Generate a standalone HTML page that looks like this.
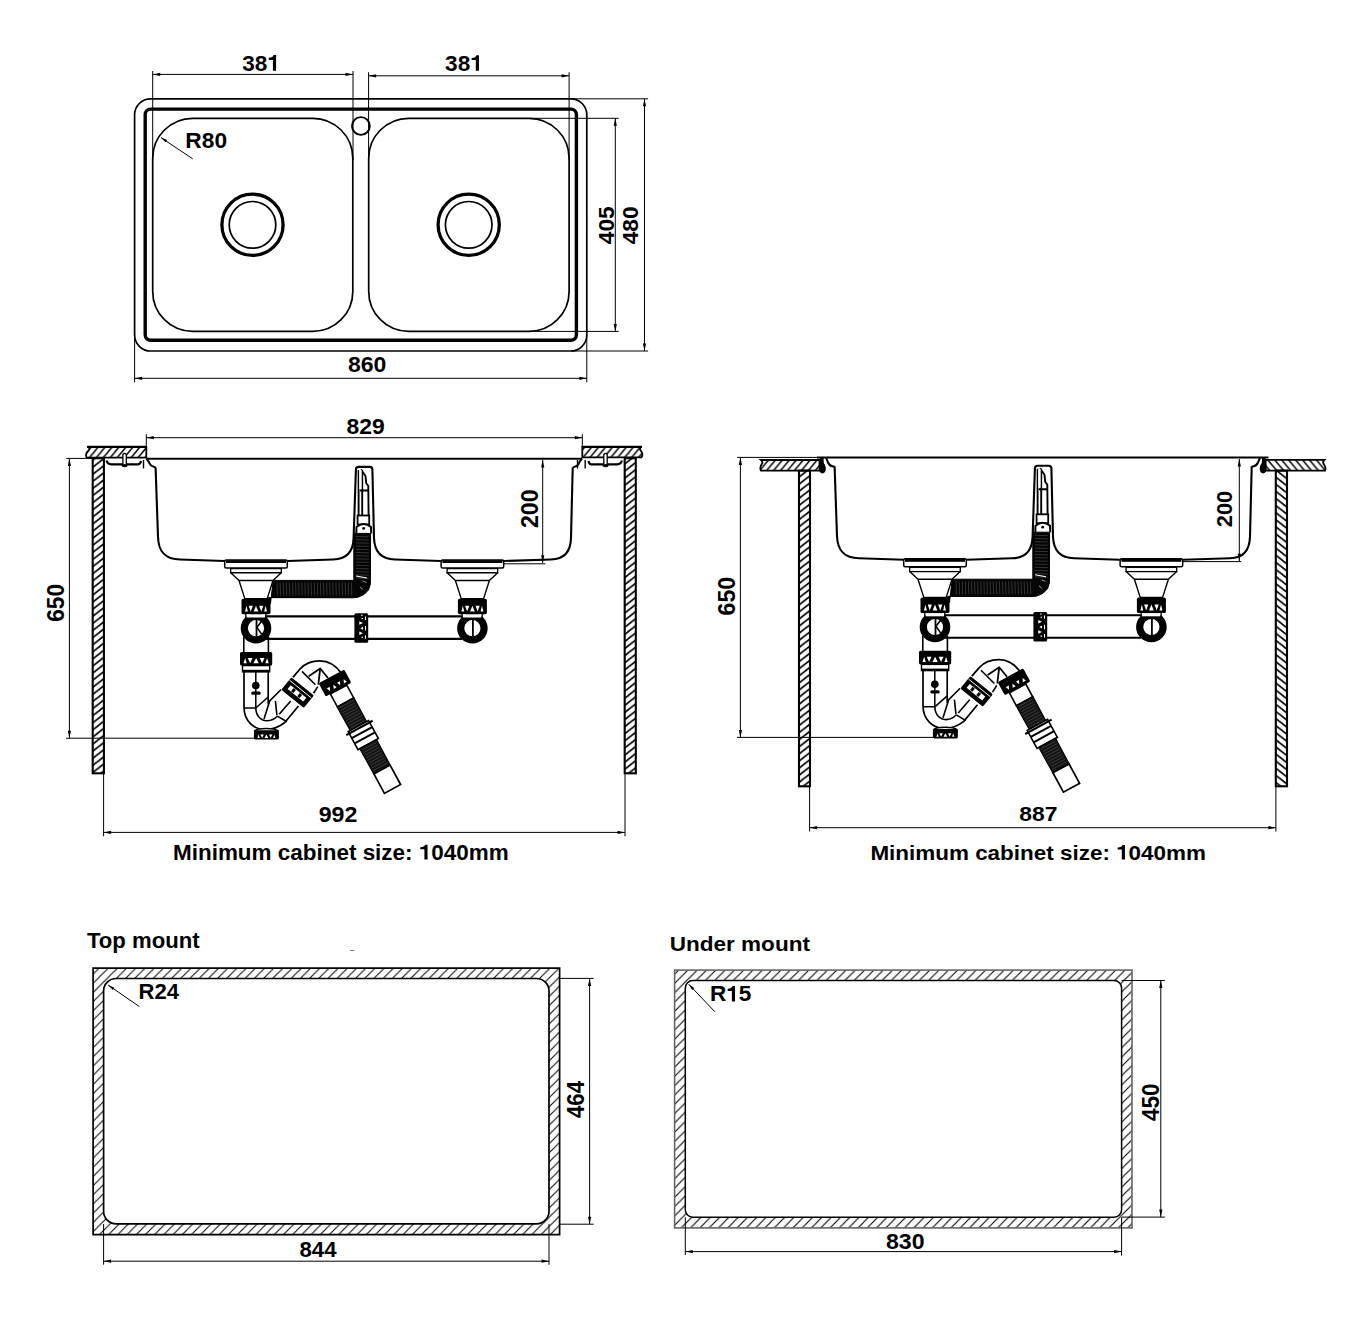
<!DOCTYPE html><html><head><meta charset="utf-8"><title>Sink drawing</title>
<style>html,body{margin:0;padding:0;background:#fff;}svg{display:block;}text{font-family:"Liberation Sans", sans-serif;font-weight:bold;fill:#000;}</style></head><body>
<svg width="1366" height="1326" viewBox="0 0 1366 1326">
<rect width="1366" height="1326" fill="#fff"/>
<defs>
<pattern id="hw" patternUnits="userSpaceOnUse" width="9.1" height="7.1"><path d="M0,7.1 L9.1,0 M-9.1,7.1 L0,0 M9.1,7.1 L18.2,0 M0,0 L9.1,-7.1 M0,14.2 L9.1,7.1" stroke="#000" stroke-width="1.6" fill="none"/></pattern>
<pattern id="hwf" patternUnits="userSpaceOnUse" width="9.1" height="7.1"><path d="M0,0 L9.1,7.1 M-9.1,0 L0,7.1 M9.1,0 L18.2,7.1 M0,-7.1 L9.1,0 M0,7.1 L9.1,14.2" stroke="#000" stroke-width="1.6" fill="none"/></pattern>
<pattern id="hs" patternUnits="userSpaceOnUse" width="6.95" height="8.3"><path d="M0,8.3 L6.95,0 M-6.95,8.3 L0,0 M6.95,8.3 L13.9,0 M0,0 L6.95,-8.3 M0,16.6 L6.95,8.3" stroke="#000" stroke-width="1.5" fill="none"/></pattern>
<pattern id="hsf" patternUnits="userSpaceOnUse" width="6.95" height="8.3"><path d="M0,0 L6.95,8.3 M-6.95,0 L0,8.3 M6.95,0 L13.9,8.3 M0,-8.3 L6.95,0 M0,8.3 L6.95,16.6" stroke="#000" stroke-width="1.5" fill="none"/></pattern>
<pattern id="hc" patternUnits="userSpaceOnUse" width="9.2" height="9.2"><path d="M0,9.2 L9.2,0 M-2,2 L2,-2 M7.2,11.2 L11.2,7.2" stroke="#000" stroke-width="1" fill="none"/></pattern>
<pattern id="hc2" patternUnits="userSpaceOnUse" width="9.3" height="9.3" patternTransform="translate(2.6 0)"><path d="M0,9.3 L9.3,0 M-2,2 L2,-2 M7.3,11.3 L11.3,7.3" stroke="#000" stroke-width="1.1" fill="none"/></pattern>
</defs>
<g fill="none" stroke="#000">
<rect x="134.6" y="98.8" width="452.2" height="252.2" rx="16" stroke-width="1.7"/>
<rect x="145.2" y="109.1" width="431.2" height="231.2" rx="5.5" stroke-width="3.4"/>
<rect x="152.7" y="118.3" width="200.1" height="213.1" rx="40" stroke-width="1.7"/>
<rect x="368.7" y="118.3" width="200.4" height="213.1" rx="40" stroke-width="1.7"/>
<circle cx="360.9" cy="126" r="8.9" stroke-width="1.9"/>
<circle cx="252.5" cy="224.8" r="30.6" stroke-width="3.3"/>
<circle cx="252.5" cy="224.8" r="23.3" stroke-width="1.7"/>
<circle cx="468.7" cy="224.8" r="30.6" stroke-width="3.3"/>
<circle cx="468.7" cy="224.8" r="23.3" stroke-width="1.7"/>
</g>
<line x1="152.7" y1="71" x2="152.7" y2="160" stroke="#000" stroke-width="1"/>
<line x1="353" y1="71" x2="353" y2="160" stroke="#000" stroke-width="1"/>
<line x1="152.7" y1="74.4" x2="353" y2="74.4" stroke="#000" stroke-width="1"/>
<path d="M152.7,74.4 L160.2,72.8 L160.2,76 Z" fill="#000"/>
<path d="M353,74.4 L345.5,76 L345.5,72.8 Z" fill="#000"/>
<line x1="368.6" y1="72.2" x2="368.6" y2="160" stroke="#000" stroke-width="1"/>
<line x1="569.1" y1="72.2" x2="569.1" y2="160" stroke="#000" stroke-width="1"/>
<line x1="368.6" y1="75.8" x2="569.1" y2="75.8" stroke="#000" stroke-width="1"/>
<path d="M368.6,75.8 L376.1,74.2 L376.1,77.4 Z" fill="#000"/>
<path d="M569.1,75.8 L561.6,77.4 L561.6,74.2 Z" fill="#000"/>
<line x1="134.6" y1="335" x2="134.6" y2="382.3" stroke="#000" stroke-width="1"/>
<line x1="586.8" y1="335" x2="586.8" y2="382.3" stroke="#000" stroke-width="1"/>
<line x1="134.6" y1="378.3" x2="586.8" y2="378.3" stroke="#000" stroke-width="1"/>
<path d="M134.6,378.3 L142.1,376.7 L142.1,379.9 Z" fill="#000"/>
<path d="M586.8,378.3 L579.3,379.9 L579.3,376.7 Z" fill="#000"/>
<line x1="529" y1="118.3" x2="618.7" y2="118.3" stroke="#000" stroke-width="1"/>
<line x1="529" y1="331.4" x2="618.7" y2="331.4" stroke="#000" stroke-width="1"/>
<line x1="615.3" y1="118.3" x2="615.3" y2="331.4" stroke="#000" stroke-width="1"/>
<path d="M615.3,118.3 L616.9,125.8 L613.7,125.8 Z" fill="#000"/>
<path d="M615.3,331.4 L613.7,323.9 L616.9,323.9 Z" fill="#000"/>
<line x1="571" y1="98.8" x2="648.1" y2="98.8" stroke="#000" stroke-width="1"/>
<line x1="571" y1="351" x2="648.1" y2="351" stroke="#000" stroke-width="1"/>
<line x1="644.5" y1="98.8" x2="644.5" y2="351" stroke="#000" stroke-width="1"/>
<path d="M644.5,98.8 L646.1,106.3 L642.9,106.3 Z" fill="#000"/>
<path d="M644.5,351 L642.9,343.5 L646.1,343.5 Z" fill="#000"/>
<line x1="160.9" y1="137.6" x2="192.7" y2="158.8" stroke="#000" stroke-width="1"/>
<path d="M160.9,137.6 L167.08,140.04 L165.53,142.37 Z" fill="#000"/>
<g transform="translate(242.18 70.66) scale(1.0181 1)"><text font-size="22.22">38 </text><path transform="translate(24.72 0) scale(0.02222 -0.02222)" d="M386,0 L386,700 L274,700 C258,632 198,582 62,578 L62,482 L246,482 L246,0 Z"/></g>
<g transform="translate(445.08 70.66) scale(1.0246 1)"><text font-size="22.08">38 </text><path transform="translate(24.56 0) scale(0.02208 -0.02208)" d="M386,0 L386,700 L274,700 C258,632 198,582 62,578 L62,482 L246,482 L246,0 Z"/></g>
<text transform="translate(347.96 371.68) scale(1.0362 1)" font-size="22.21">860</text>
<text transform="translate(185.37 147.58) scale(1.0386 1)" font-size="21.92">R80</text>
<text transform="translate(613.58 244.24) rotate(-90) scale(1.0124 1)" font-size="22.49">405</text>
<text transform="translate(638.37 244.24) rotate(-90) scale(0.9882 1)" font-size="22.91">480</text>
<g>
<path d="M155.6,467.6 L158,537 C158.5,552 165,559.3 180,559.5 L224.8,561 M287.5,561 L333,559.5 C347,559.3 353.2,551 353.6,538 L355.9,469.5 Q356,466.9 358.6,466.9 L369.7,466.9 Q372.3,466.9 372.4,469.5 L374,538 C374.5,551 381,559.3 395,559.5 L440.8,561 M504,561 L551,559.5 C565,559.3 570.6,551 571,538 L572.7,467.6" fill="none" stroke="#000" stroke-width="2.1"/>
<path d="M266,616.4 L462,616.4 M266,638.9 L462,638.9" stroke="#000" stroke-width="2.1" fill="none"/>
<rect x="224.7" y="560" width="62.6" height="8" rx="1.5" fill="#fff" stroke="#000" stroke-width="1.5"/>
<rect x="226" y="560.2" width="60" height="2.8" fill="#000"/>
<rect x="230.7" y="568.6" width="50.6" height="4.2" fill="#fff" stroke="#000" stroke-width="1.3"/>
<path d="M230.7,572.8 L281.3,572.8 L273,580.5 L239,580.5 Z M239,580.5 L244.8,598.6 L267.2,598.6 L273,580.5" fill="#fff" stroke="#000" stroke-width="1.4" stroke-linejoin="round"/>
<rect x="241.5" y="598.8" width="29" height="15.4" rx="1.6" fill="#000"/>
<path d="M245,611.58 L246.43,605.73 L247.86,611.58 Z" fill="#fff"/>
<path d="M248.69,605.73 L250.78,611.58 L252.87,605.73 Z" fill="#fff"/>
<path d="M253.69,611.58 L256,605.73 L258.31,611.58 Z" fill="#fff"/>
<path d="M259.13,605.73 L261.23,611.58 L263.31,605.73 Z" fill="#fff"/>
<path d="M264.14,611.58 L265.57,605.73 L267,611.58 Z" fill="#fff"/>
<circle cx="256" cy="628.2" r="11.7" fill="#fff" stroke="#000" stroke-width="7.2"/>
<rect x="246.4" y="614.3" width="18.6" height="3.2" fill="#fff"/>
<path d="M245.8,614 L245.8,618.5 M265.8,614 L265.8,618.5" stroke="#000" stroke-width="1.3"/>
<line x1="256.5" y1="619.6" x2="256.5" y2="636.4" stroke="#000" stroke-width="1.8"/>
<path d="M256.8,627.6 L261.4,621.6 M256.8,627.2 L261.6,634.1" stroke="#000" stroke-width="1.6" fill="none"/>
<rect x="441.1" y="560" width="62.6" height="8" rx="1.5" fill="#fff" stroke="#000" stroke-width="1.5"/>
<rect x="442.4" y="560.2" width="60" height="2.8" fill="#000"/>
<rect x="447.1" y="568.6" width="50.6" height="4.2" fill="#fff" stroke="#000" stroke-width="1.3"/>
<path d="M447.1,572.8 L497.7,572.8 L489.4,580.5 L455.4,580.5 Z M455.4,580.5 L461.2,598.6 L483.6,598.6 L489.4,580.5" fill="#fff" stroke="#000" stroke-width="1.4" stroke-linejoin="round"/>
<rect x="457.9" y="598.8" width="29" height="15.4" rx="1.6" fill="#000"/>
<path d="M461.4,611.58 L462.83,605.73 L464.26,611.58 Z" fill="#fff"/>
<path d="M465.08,605.73 L467.17,611.58 L469.26,605.73 Z" fill="#fff"/>
<path d="M470.09,611.58 L472.4,605.73 L474.71,611.58 Z" fill="#fff"/>
<path d="M475.53,605.73 L477.62,611.58 L479.71,605.73 Z" fill="#fff"/>
<path d="M480.54,611.58 L481.97,605.73 L483.4,611.58 Z" fill="#fff"/>
<circle cx="472.4" cy="628.2" r="11.7" fill="#fff" stroke="#000" stroke-width="7.2"/>
<rect x="462.8" y="614.3" width="18.6" height="3.2" fill="#fff"/>
<path d="M462.2,614 L462.2,618.5 M482.2,614 L482.2,618.5" stroke="#000" stroke-width="1.3"/>
<line x1="472.9" y1="619.6" x2="472.9" y2="636.4" stroke="#000" stroke-width="1.8"/>
<rect x="354.4" y="613.3" width="13.8" height="29.5" rx="1.5" fill="#000"/>
<path d="M359.3,621.3 L363,623 L359.3,624.7 Z M363,626.7 L360.4,628.2 L363,629.8 Z M359.3,631.5 L363,633.2 L359.3,634.9 Z" fill="#fff"/>
<path d="M365.5,616.6 L365.5,620 M365.5,625.9 L365.5,630.5 M365.5,635.3 L365.5,638.8 M361,615.2 L362.6,615.2 M361.5,618.5 L363,618.5 M361.5,637.3 L363,637.3" stroke="#fff" stroke-width="1.1"/>
<path d="M358.6,470 L358.6,516 M362.2,470 L362.2,516 M361,469.5 L365.5,476 L366.2,483 L368.3,486 L368.6,516 M360,490.5 L368,490.5" stroke="#000" stroke-width="1.9" fill="none" stroke-linejoin="round"/>
<rect x="359.2" y="470" width="2.4" height="19" fill="#fff"/>
<rect x="357.6" y="515.5" width="11.6" height="9" fill="#fff" stroke="#000" stroke-width="1.8"/>
<path d="M356.3,533.5 L356.5,527 Q363.7,521 371,527 L371.2,533.5" fill="#fff" stroke="#000" stroke-width="2"/>
<circle cx="363.7" cy="528.4" r="1.4" fill="#000"/>
<path d="M273.2,580.4 L353.8,580.4 L353.8,533.4 L370.6,533.4 L370.4,584 L368.5,590 L364,594.5 L358,597.2 L353,597.8 L268.5,597.6 L266.8,603 L270.5,603.5 Z" fill="#050505" stroke="#000" stroke-width="1" stroke-linejoin="round"/>
<path d="M277,582.5 L277.4,595.5 M280.1,582.5 L280.5,595.5 M283.2,582.5 L283.6,595.5 M286.3,582.5 L286.7,595.5 M289.4,582.5 L289.8,595.5 M292.5,582.5 L292.9,595.5 M295.6,582.5 L296,595.5 M298.7,582.5 L299.1,595.5 M301.8,582.5 L302.2,595.5 M304.9,582.5 L305.3,595.5 M308,582.5 L308.4,595.5 M311.1,582.5 L311.5,595.5 M314.2,582.5 L314.6,595.5 M317.3,582.5 L317.7,595.5 M320.4,582.5 L320.8,595.5 M323.5,582.5 L323.9,595.5 M326.6,582.5 L327,595.5 M329.7,582.5 L330.1,595.5 M332.8,582.5 L333.2,595.5 M335.9,582.5 L336.3,595.5 M339,582.5 L339.4,595.5 M342.1,582.5 L342.5,595.5 M345.2,582.5 L345.6,595.5 M348.3,582.5 L348.7,595.5 M351.4,582.5 L351.8,595.5 M356,536.5 L368.8,536.8 M356,539.7 L368.8,540 M356,542.9 L368.8,543.2 M356,546.1 L368.8,546.4 M356,549.3 L368.8,549.6 M356,552.5 L368.8,552.8 M356,555.7 L368.8,556 M356,558.9 L368.8,559.2 M356,562.1 L368.8,562.4 M356,565.3 L368.8,565.6 M356,568.5 L368.8,568.8 M356,571.7 L368.8,572 M356,574.9 L368.8,575.2 M356,578.1 L368.8,578.4" stroke="#fff" stroke-opacity="0.3" stroke-width="0.6" fill="none"/>
<path d="M356,576 L367,578" stroke="#fff" stroke-width="1.1"/>
<path d="M362.5,581 L366.5,582.5 M360,587 L363,589.5" stroke="#fff" stroke-opacity="0.7" stroke-width="0.8"/>
<path d="M243.8,637 L243.8,652.5 M268.4,637 L268.4,652.5" stroke="#000" stroke-width="1.6" fill="none"/>
<rect x="240" y="651.9" width="32.2" height="13.7" rx="1.6" fill="#000"/>
<path d="M243.5,663.27 L245.14,658.06 L246.78,663.27 Z" fill="#fff"/>
<path d="M247.72,658.06 L250.12,663.27 L252.51,658.06 Z" fill="#fff"/>
<path d="M253.45,663.27 L256.1,658.06 L258.75,663.27 Z" fill="#fff"/>
<path d="M259.69,658.06 L262.09,663.27 L264.48,658.06 Z" fill="#fff"/>
<path d="M265.42,663.27 L267.06,658.06 L268.7,663.27 Z" fill="#fff"/>
<rect x="242.5" y="665.6" width="27.2" height="6.2" fill="#fff" stroke="#000" stroke-width="1.4"/>
<rect x="242.5" y="669.8" width="27.2" height="2.4" fill="#000"/>
<path d="M244,672 L244,707 C244,721 254,729.6 265.5,729.6 C273,729.6 279,727 284.8,722.5 L298.5,706" fill="none" stroke="#000" stroke-width="1.7"/>
<path d="M268.2,672 L268.2,704.5" fill="none" stroke="#000" stroke-width="1.7"/>
<path d="M255.8,672 L255.8,708 M244,707.9 L255.8,707.9" fill="none" stroke="#000" stroke-width="1.5"/>
<circle cx="255.8" cy="685.5" r="3.8" fill="#000"/>
<rect x="251.3" y="691.4" width="9.4" height="3.4" rx="1.5" fill="#000"/>
<path d="M255.8,708 C256,716 261,721 267.5,720.8 C271.5,720.6 274.5,719 277.5,716" fill="none" stroke="#000" stroke-width="1.6"/>
<path d="M255.8,708 L268.2,697" fill="none" stroke="#000" stroke-width="1.6"/>
<path d="M264,719 L269.7,700.9 L281.1,689.5 M275.4,700.9 L276.9,715.2 M277.3,716.1 L286.9,721.8 M279.2,714.2 L290.7,700.9" fill="none" stroke="#000" stroke-width="1.6"/>
<g transform="translate(297.6 692.6) rotate(-51)"><rect x="-8" y="-14.5" width="16" height="29" rx="1.5" fill="#000"/><rect x="-3.5" y="-10" width="5" height="20" fill="#fff"/><rect x="-3" y="-6" width="4" height="3" fill="#000"/><rect x="-3" y="2" width="4" height="3" fill="#000"/><line x1="4.5" y1="-14" x2="4.5" y2="14" stroke="#fff" stroke-width="0.9"/></g>
<path d="M302,671.4 L315.4,684.7 M313.5,693.3 L317.8,686.6" fill="none" stroke="#000" stroke-width="1.6"/>
<path d="M292.9,677.4 L300,669 C306,662.5 313,660.9 319.8,660.9 C328,660.9 336,665.5 341.5,673.5" fill="none" stroke="#000" stroke-width="1.8"/>
<path d="M308.7,676.2 L320.2,668.5 L328,678 M320.2,668.5 L318.3,684.7" fill="none" stroke="#000" stroke-width="1.8" stroke-linejoin="round"/>
<g transform="translate(335 683) rotate(61.5)">
<rect x="-7.5" y="-14.5" width="15" height="29" rx="1.5" fill="#000"/>
<path d="M4.6,-11 L0.8,-9.3 L4.6,-7.6 Z" fill="#fff"/>
<path d="M0.8,-5.2 L4.6,-3.5 L0.8,-1.8 Z" fill="#fff"/>
<path d="M4.6,0.6 L0.8,2.3 L4.6,4 Z" fill="#fff"/>
<path d="M0.8,6.4 L4.6,8.1 L0.8,9.8 Z" fill="#fff"/>
<rect x="7.5" y="-9.3" width="14.5" height="18.6" fill="#fff" stroke="#000" stroke-width="1.6"/>
<path d="M22,-9.6 L49,-9.4 L49,9.4 L22,9.6 Z" fill="#141414" stroke="#000" stroke-width="1"/>
<rect x="49" y="-11.6" width="20.5" height="23.2" fill="#fff" stroke="#000" stroke-width="1.6"/>
<path d="M51.2,-15 L51.2,15" stroke="#000" stroke-width="2.2"/>
<path d="M56.5,-11.6 L56.5,11.6 M62.5,-11.6 L62.5,11.6" stroke="#000" stroke-width="2"/>
<path d="M69.5,-9.6 L98.5,-9.4 L98.5,9.4 L69.5,9.6 Z" fill="#141414" stroke="#000" stroke-width="1"/>
<rect x="98.5" y="-9.2" width="22" height="18.4" fill="#fff" stroke="#000" stroke-width="1.7"/>
<path d="M24,-8 L24,8 M26.9,-8 L26.9,8 M29.8,-8 L29.8,8 M32.7,-8 L32.7,8 M35.6,-8 L35.6,8 M38.5,-8 L38.5,8 M41.4,-8 L41.4,8 M44.3,-8 L44.3,8 M47.2,-8 L47.2,8 M72,-8 L72,8 M74.9,-8 L74.9,8 M77.8,-8 L77.8,8 M80.7,-8 L80.7,8 M83.6,-8 L83.6,8 M86.5,-8 L86.5,8 M89.4,-8 L89.4,8 M92.3,-8 L92.3,8 M95.2,-8 L95.2,8" stroke="#fff" stroke-opacity="0.25" stroke-width="0.6"/>
</g>
<path d="M254.3,731 C258,727.5 274,727.5 278.5,731" fill="#fff" stroke="#000" stroke-width="1.5"/>
<rect x="253.9" y="730.2" width="25" height="9.4" rx="1.6" fill="#000"/>
<path d="M257.4,738 L258.57,734.43 L259.74,738 Z" fill="#fff"/>
<path d="M260.41,734.43 L262.12,738 L263.83,734.43 Z" fill="#fff"/>
<path d="M264.51,738 L266.4,734.43 L268.29,738 Z" fill="#fff"/>
<path d="M268.96,734.43 L270.67,738 L272.38,734.43 Z" fill="#fff"/>
<path d="M273.06,738 L274.23,734.43 L275.4,738 Z" fill="#fff"/>
</g>
<line x1="146.3" y1="458.7" x2="582.3" y2="458.7" stroke="#000" stroke-width="2"/>
<path d="M146.6,458.8 L148.8,461.8 Q150.2,466 153.5,466.6 L155.8,467.6" fill="none" stroke="#000" stroke-width="2"/>
<path d="M581.9,458.8 L579.6,461.8 Q578.4,466 575,466.6 L572.6,467.6" fill="none" stroke="#000" stroke-width="2"/>
<path d="M143.5,460 L143.5,468.5 M577.5,460 L577.5,468.5 M585.2,460 L585.2,468.5" stroke="#000" stroke-width="1.4"/>
<path d="M146.3,446.8 L87.5,446.8 Q91,448.5 88,451 Q85,454 86.6,457.7 L146.3,457.7 Z" fill="url(#hs)" stroke="#000" stroke-width="1.8"/>
<path d="M582.3,446.8 L641.8,446.8 Q638.5,448.5 641,451 Q643.5,454 641.5,457.4 L582.3,457.4 Z" fill="url(#hs)" stroke="#000" stroke-width="1.8"/>
<line x1="87.2" y1="446.8" x2="146.3" y2="446.8" stroke="#000" stroke-width="2.2"/>
<line x1="582.3" y1="446.8" x2="642" y2="446.8" stroke="#000" stroke-width="2.2"/>
<rect x="92.7" y="458.2" width="11.2" height="315.1" fill="url(#hw)" stroke="#000" stroke-width="2.1"/>
<rect x="624.7" y="458.2" width="11.1" height="315.1" fill="url(#hw)" stroke="#000" stroke-width="2.1"/>
<path d="M106.5,460.5 Q107.5,464.3 111.5,464.3 L138,464.3 Q140.5,464 141,461" fill="none" stroke="#000" stroke-width="2.2"/>
<path d="M122.9,465.5 L122.9,454.5 Q124.6,452.4 126.3,454.5 L126.3,465.5" fill="#fff" stroke="#000" stroke-width="1.3"/>
<ellipse cx="124.6" cy="465.6" rx="3" ry="1.6" fill="#000"/>
<path d="M622,460.5 Q621,464.3 617,464.3 L591,464.3 Q589,464 588.5,461" fill="none" stroke="#000" stroke-width="2.2"/>
<path d="M603.8,465.5 L603.8,454.5 Q605.5,452.4 607.2,454.5 L607.2,465.5" fill="#fff" stroke="#000" stroke-width="1.3"/>
<ellipse cx="605.5" cy="465.6" rx="3" ry="1.6" fill="#000"/>
<line x1="146.3" y1="434.2" x2="146.3" y2="447" stroke="#000" stroke-width="1"/>
<line x1="582.3" y1="434.2" x2="582.3" y2="447" stroke="#000" stroke-width="1"/>
<line x1="146.3" y1="437.7" x2="582.3" y2="437.7" stroke="#000" stroke-width="1"/>
<path d="M146.3,437.7 L153.8,436.1 L153.8,439.3 Z" fill="#000"/>
<path d="M582.3,437.7 L574.8,439.3 L574.8,436.1 Z" fill="#000"/>
<line x1="66.4" y1="458.4" x2="92.7" y2="458.4" stroke="#000" stroke-width="1"/>
<line x1="66" y1="738.2" x2="254.5" y2="738.2" stroke="#000" stroke-width="1"/>
<line x1="69.4" y1="458.4" x2="69.4" y2="738.2" stroke="#000" stroke-width="1"/>
<path d="M69.4,458.4 L71,465.9 L67.8,465.9 Z" fill="#000"/>
<path d="M69.4,738.2 L67.8,730.7 L71,730.7 Z" fill="#000"/>
<line x1="504" y1="563.8" x2="545.3" y2="563.8" stroke="#000" stroke-width="1"/>
<line x1="542.7" y1="460" x2="542.7" y2="562.8" stroke="#000" stroke-width="1"/>
<path d="M542.7,460 L544.3,467.5 L541.1,467.5 Z" fill="#000"/>
<path d="M542.7,562.8 L541.1,555.3 L544.3,555.3 Z" fill="#000"/>
<line x1="103.6" y1="773.3" x2="103.6" y2="836.3" stroke="#000" stroke-width="1"/>
<line x1="625" y1="773.3" x2="625" y2="836.3" stroke="#000" stroke-width="1"/>
<line x1="103.6" y1="832.4" x2="625" y2="832.4" stroke="#000" stroke-width="1"/>
<path d="M103.6,832.4 L111.1,830.8 L111.1,834 Z" fill="#000"/>
<path d="M625,832.4 L617.5,834 L617.5,830.8 Z" fill="#000"/>
<text transform="translate(346.57 433.77) scale(1.0114 1)" font-size="22.63">829</text>
<text transform="translate(63.87 621.84) rotate(-90) scale(0.9697 1)" font-size="23.48">650</text>
<text transform="translate(538.06 528.11) rotate(-90) scale(0.9813 1)" font-size="23.62">200</text>
<text transform="translate(318.69 822.49) scale(1.0774 1)" font-size="21.5">992</text>
<g transform="translate(172.99 859.59) scale(1.0569 1)"><text font-size="21.25">Minimum cabinet size:  040mm</text><path transform="translate(232.65 0) scale(0.02125 -0.02125)" d="M386,0 L386,700 L274,700 C258,632 198,582 62,578 L62,482 L246,482 L246,0 Z"/></g>
<g transform="translate(679 -1.2)">
<path d="M155.6,467.6 L158,537 C158.5,552 165,559.3 180,559.5 L224.8,561 M287.5,561 L333,559.5 C347,559.3 353.2,551 353.6,538 L355.9,469.5 Q356,466.9 358.6,466.9 L369.7,466.9 Q372.3,466.9 372.4,469.5 L374,538 C374.5,551 381,559.3 395,559.5 L440.8,561 M504,561 L551,559.5 C565,559.3 570.6,551 571,538 L572.7,467.6" fill="none" stroke="#000" stroke-width="2.1"/>
<path d="M266,616.4 L462,616.4 M266,638.9 L462,638.9" stroke="#000" stroke-width="2.1" fill="none"/>
<rect x="224.7" y="560" width="62.6" height="8" rx="1.5" fill="#fff" stroke="#000" stroke-width="1.5"/>
<rect x="226" y="560.2" width="60" height="2.8" fill="#000"/>
<rect x="230.7" y="568.6" width="50.6" height="4.2" fill="#fff" stroke="#000" stroke-width="1.3"/>
<path d="M230.7,572.8 L281.3,572.8 L273,580.5 L239,580.5 Z M239,580.5 L244.8,598.6 L267.2,598.6 L273,580.5" fill="#fff" stroke="#000" stroke-width="1.4" stroke-linejoin="round"/>
<rect x="241.5" y="598.8" width="29" height="15.4" rx="1.6" fill="#000"/>
<path d="M245,611.58 L246.43,605.73 L247.86,611.58 Z" fill="#fff"/>
<path d="M248.69,605.73 L250.78,611.58 L252.87,605.73 Z" fill="#fff"/>
<path d="M253.69,611.58 L256,605.73 L258.31,611.58 Z" fill="#fff"/>
<path d="M259.13,605.73 L261.23,611.58 L263.31,605.73 Z" fill="#fff"/>
<path d="M264.14,611.58 L265.57,605.73 L267,611.58 Z" fill="#fff"/>
<circle cx="256" cy="628.2" r="11.7" fill="#fff" stroke="#000" stroke-width="7.2"/>
<rect x="246.4" y="614.3" width="18.6" height="3.2" fill="#fff"/>
<path d="M245.8,614 L245.8,618.5 M265.8,614 L265.8,618.5" stroke="#000" stroke-width="1.3"/>
<line x1="256.5" y1="619.6" x2="256.5" y2="636.4" stroke="#000" stroke-width="1.8"/>
<path d="M256.8,627.6 L261.4,621.6 M256.8,627.2 L261.6,634.1" stroke="#000" stroke-width="1.6" fill="none"/>
<rect x="441.1" y="560" width="62.6" height="8" rx="1.5" fill="#fff" stroke="#000" stroke-width="1.5"/>
<rect x="442.4" y="560.2" width="60" height="2.8" fill="#000"/>
<rect x="447.1" y="568.6" width="50.6" height="4.2" fill="#fff" stroke="#000" stroke-width="1.3"/>
<path d="M447.1,572.8 L497.7,572.8 L489.4,580.5 L455.4,580.5 Z M455.4,580.5 L461.2,598.6 L483.6,598.6 L489.4,580.5" fill="#fff" stroke="#000" stroke-width="1.4" stroke-linejoin="round"/>
<rect x="457.9" y="598.8" width="29" height="15.4" rx="1.6" fill="#000"/>
<path d="M461.4,611.58 L462.83,605.73 L464.26,611.58 Z" fill="#fff"/>
<path d="M465.08,605.73 L467.17,611.58 L469.26,605.73 Z" fill="#fff"/>
<path d="M470.09,611.58 L472.4,605.73 L474.71,611.58 Z" fill="#fff"/>
<path d="M475.53,605.73 L477.62,611.58 L479.71,605.73 Z" fill="#fff"/>
<path d="M480.54,611.58 L481.97,605.73 L483.4,611.58 Z" fill="#fff"/>
<circle cx="472.4" cy="628.2" r="11.7" fill="#fff" stroke="#000" stroke-width="7.2"/>
<rect x="462.8" y="614.3" width="18.6" height="3.2" fill="#fff"/>
<path d="M462.2,614 L462.2,618.5 M482.2,614 L482.2,618.5" stroke="#000" stroke-width="1.3"/>
<line x1="472.9" y1="619.6" x2="472.9" y2="636.4" stroke="#000" stroke-width="1.8"/>
<rect x="354.4" y="613.3" width="13.8" height="29.5" rx="1.5" fill="#000"/>
<path d="M359.3,621.3 L363,623 L359.3,624.7 Z M363,626.7 L360.4,628.2 L363,629.8 Z M359.3,631.5 L363,633.2 L359.3,634.9 Z" fill="#fff"/>
<path d="M365.5,616.6 L365.5,620 M365.5,625.9 L365.5,630.5 M365.5,635.3 L365.5,638.8 M361,615.2 L362.6,615.2 M361.5,618.5 L363,618.5 M361.5,637.3 L363,637.3" stroke="#fff" stroke-width="1.1"/>
<path d="M358.6,470 L358.6,516 M362.2,470 L362.2,516 M361,469.5 L365.5,476 L366.2,483 L368.3,486 L368.6,516 M360,490.5 L368,490.5" stroke="#000" stroke-width="1.9" fill="none" stroke-linejoin="round"/>
<rect x="359.2" y="470" width="2.4" height="19" fill="#fff"/>
<rect x="357.6" y="515.5" width="11.6" height="9" fill="#fff" stroke="#000" stroke-width="1.8"/>
<path d="M356.3,533.5 L356.5,527 Q363.7,521 371,527 L371.2,533.5" fill="#fff" stroke="#000" stroke-width="2"/>
<circle cx="363.7" cy="528.4" r="1.4" fill="#000"/>
<path d="M273.2,580.4 L353.8,580.4 L353.8,533.4 L370.6,533.4 L370.4,584 L368.5,590 L364,594.5 L358,597.2 L353,597.8 L268.5,597.6 L266.8,603 L270.5,603.5 Z" fill="#050505" stroke="#000" stroke-width="1" stroke-linejoin="round"/>
<path d="M277,582.5 L277.4,595.5 M280.1,582.5 L280.5,595.5 M283.2,582.5 L283.6,595.5 M286.3,582.5 L286.7,595.5 M289.4,582.5 L289.8,595.5 M292.5,582.5 L292.9,595.5 M295.6,582.5 L296,595.5 M298.7,582.5 L299.1,595.5 M301.8,582.5 L302.2,595.5 M304.9,582.5 L305.3,595.5 M308,582.5 L308.4,595.5 M311.1,582.5 L311.5,595.5 M314.2,582.5 L314.6,595.5 M317.3,582.5 L317.7,595.5 M320.4,582.5 L320.8,595.5 M323.5,582.5 L323.9,595.5 M326.6,582.5 L327,595.5 M329.7,582.5 L330.1,595.5 M332.8,582.5 L333.2,595.5 M335.9,582.5 L336.3,595.5 M339,582.5 L339.4,595.5 M342.1,582.5 L342.5,595.5 M345.2,582.5 L345.6,595.5 M348.3,582.5 L348.7,595.5 M351.4,582.5 L351.8,595.5 M356,536.5 L368.8,536.8 M356,539.7 L368.8,540 M356,542.9 L368.8,543.2 M356,546.1 L368.8,546.4 M356,549.3 L368.8,549.6 M356,552.5 L368.8,552.8 M356,555.7 L368.8,556 M356,558.9 L368.8,559.2 M356,562.1 L368.8,562.4 M356,565.3 L368.8,565.6 M356,568.5 L368.8,568.8 M356,571.7 L368.8,572 M356,574.9 L368.8,575.2 M356,578.1 L368.8,578.4" stroke="#fff" stroke-opacity="0.3" stroke-width="0.6" fill="none"/>
<path d="M356,576 L367,578" stroke="#fff" stroke-width="1.1"/>
<path d="M362.5,581 L366.5,582.5 M360,587 L363,589.5" stroke="#fff" stroke-opacity="0.7" stroke-width="0.8"/>
<path d="M243.8,637 L243.8,652.5 M268.4,637 L268.4,652.5" stroke="#000" stroke-width="1.6" fill="none"/>
<rect x="240" y="651.9" width="32.2" height="13.7" rx="1.6" fill="#000"/>
<path d="M243.5,663.27 L245.14,658.06 L246.78,663.27 Z" fill="#fff"/>
<path d="M247.72,658.06 L250.12,663.27 L252.51,658.06 Z" fill="#fff"/>
<path d="M253.45,663.27 L256.1,658.06 L258.75,663.27 Z" fill="#fff"/>
<path d="M259.69,658.06 L262.09,663.27 L264.48,658.06 Z" fill="#fff"/>
<path d="M265.42,663.27 L267.06,658.06 L268.7,663.27 Z" fill="#fff"/>
<rect x="242.5" y="665.6" width="27.2" height="6.2" fill="#fff" stroke="#000" stroke-width="1.4"/>
<rect x="242.5" y="669.8" width="27.2" height="2.4" fill="#000"/>
<path d="M244,672 L244,707 C244,721 254,729.6 265.5,729.6 C273,729.6 279,727 284.8,722.5 L298.5,706" fill="none" stroke="#000" stroke-width="1.7"/>
<path d="M268.2,672 L268.2,704.5" fill="none" stroke="#000" stroke-width="1.7"/>
<path d="M255.8,672 L255.8,708 M244,707.9 L255.8,707.9" fill="none" stroke="#000" stroke-width="1.5"/>
<circle cx="255.8" cy="685.5" r="3.8" fill="#000"/>
<rect x="251.3" y="691.4" width="9.4" height="3.4" rx="1.5" fill="#000"/>
<path d="M255.8,708 C256,716 261,721 267.5,720.8 C271.5,720.6 274.5,719 277.5,716" fill="none" stroke="#000" stroke-width="1.6"/>
<path d="M255.8,708 L268.2,697" fill="none" stroke="#000" stroke-width="1.6"/>
<path d="M264,719 L269.7,700.9 L281.1,689.5 M275.4,700.9 L276.9,715.2 M277.3,716.1 L286.9,721.8 M279.2,714.2 L290.7,700.9" fill="none" stroke="#000" stroke-width="1.6"/>
<g transform="translate(297.6 692.6) rotate(-51)"><rect x="-8" y="-14.5" width="16" height="29" rx="1.5" fill="#000"/><rect x="-3.5" y="-10" width="5" height="20" fill="#fff"/><rect x="-3" y="-6" width="4" height="3" fill="#000"/><rect x="-3" y="2" width="4" height="3" fill="#000"/><line x1="4.5" y1="-14" x2="4.5" y2="14" stroke="#fff" stroke-width="0.9"/></g>
<path d="M302,671.4 L315.4,684.7 M313.5,693.3 L317.8,686.6" fill="none" stroke="#000" stroke-width="1.6"/>
<path d="M292.9,677.4 L300,669 C306,662.5 313,660.9 319.8,660.9 C328,660.9 336,665.5 341.5,673.5" fill="none" stroke="#000" stroke-width="1.8"/>
<path d="M308.7,676.2 L320.2,668.5 L328,678 M320.2,668.5 L318.3,684.7" fill="none" stroke="#000" stroke-width="1.8" stroke-linejoin="round"/>
<g transform="translate(335 683) rotate(61.5)">
<rect x="-7.5" y="-14.5" width="15" height="29" rx="1.5" fill="#000"/>
<path d="M4.6,-11 L0.8,-9.3 L4.6,-7.6 Z" fill="#fff"/>
<path d="M0.8,-5.2 L4.6,-3.5 L0.8,-1.8 Z" fill="#fff"/>
<path d="M4.6,0.6 L0.8,2.3 L4.6,4 Z" fill="#fff"/>
<path d="M0.8,6.4 L4.6,8.1 L0.8,9.8 Z" fill="#fff"/>
<rect x="7.5" y="-9.3" width="14.5" height="18.6" fill="#fff" stroke="#000" stroke-width="1.6"/>
<path d="M22,-9.6 L49,-9.4 L49,9.4 L22,9.6 Z" fill="#141414" stroke="#000" stroke-width="1"/>
<rect x="49" y="-11.6" width="20.5" height="23.2" fill="#fff" stroke="#000" stroke-width="1.6"/>
<path d="M51.2,-15 L51.2,15" stroke="#000" stroke-width="2.2"/>
<path d="M56.5,-11.6 L56.5,11.6 M62.5,-11.6 L62.5,11.6" stroke="#000" stroke-width="2"/>
<path d="M69.5,-9.6 L98.5,-9.4 L98.5,9.4 L69.5,9.6 Z" fill="#141414" stroke="#000" stroke-width="1"/>
<rect x="98.5" y="-9.2" width="22" height="18.4" fill="#fff" stroke="#000" stroke-width="1.7"/>
<path d="M24,-8 L24,8 M26.9,-8 L26.9,8 M29.8,-8 L29.8,8 M32.7,-8 L32.7,8 M35.6,-8 L35.6,8 M38.5,-8 L38.5,8 M41.4,-8 L41.4,8 M44.3,-8 L44.3,8 M47.2,-8 L47.2,8 M72,-8 L72,8 M74.9,-8 L74.9,8 M77.8,-8 L77.8,8 M80.7,-8 L80.7,8 M83.6,-8 L83.6,8 M86.5,-8 L86.5,8 M89.4,-8 L89.4,8 M92.3,-8 L92.3,8 M95.2,-8 L95.2,8" stroke="#fff" stroke-opacity="0.25" stroke-width="0.6"/>
</g>
<path d="M254.3,731 C258,727.5 274,727.5 278.5,731" fill="#fff" stroke="#000" stroke-width="1.5"/>
<rect x="253.9" y="730.2" width="25" height="9.4" rx="1.6" fill="#000"/>
<path d="M257.4,738 L258.57,734.43 L259.74,738 Z" fill="#fff"/>
<path d="M260.41,734.43 L262.12,738 L263.83,734.43 Z" fill="#fff"/>
<path d="M264.51,738 L266.4,734.43 L268.29,738 Z" fill="#fff"/>
<path d="M268.96,734.43 L270.67,738 L272.38,734.43 Z" fill="#fff"/>
<path d="M273.06,738 L274.23,734.43 L275.4,738 Z" fill="#fff"/>
</g>
<line x1="817" y1="457.4" x2="1268.5" y2="457.4" stroke="#000" stroke-width="2"/>
<path d="M826,457.6 L828,462.5 Q829.5,466 833,466.4 L834.7,466.5" fill="none" stroke="#000" stroke-width="2"/>
<path d="M1260,457.6 L1258,462.5 Q1256.5,466 1253,466.4 L1251.6,466.4" fill="none" stroke="#000" stroke-width="2"/>
<path d="M819.5,460 L761,460 Q763.5,462 761.5,464.5 Q759.5,468 761,470.6 L819.5,470.6 Z" fill="url(#hs)" stroke="#000" stroke-width="1.8"/>
<path d="M1265.7,459.8 L1324.5,459.8 Q1322,462 1324,464.5 Q1326.5,468 1325,470.7 L1265.7,470.7 Z" fill="url(#hsf)" stroke="#000" stroke-width="1.8"/>
<rect x="799" y="470.6" width="11" height="315.7" fill="url(#hw)" stroke="#000" stroke-width="2.1"/>
<rect x="1275.8" y="470.6" width="11.2" height="315.7" fill="url(#hwf)" stroke="#000" stroke-width="2.1"/>
<path d="M820,458 L823.5,458 L823.8,463 Q826.5,466 825.5,471 Q824,474.5 821,473 Q818,471 820,468 Z" fill="#000"/>
<path d="M1265.5,458 L1262,458 L1261.8,463 Q1259,466 1260,471 Q1261.5,474.5 1264.5,473 Q1267.5,471 1265.5,468 Z" fill="#000"/>
<line x1="737.1" y1="457.4" x2="817" y2="457.4" stroke="#000" stroke-width="1"/>
<line x1="737" y1="737.4" x2="933" y2="737.4" stroke="#000" stroke-width="1"/>
<line x1="740.4" y1="457.4" x2="740.4" y2="737.4" stroke="#000" stroke-width="1"/>
<path d="M740.4,457.4 L742,464.9 L738.8,464.9 Z" fill="#000"/>
<path d="M740.4,737.4 L738.8,729.9 L742,729.9 Z" fill="#000"/>
<line x1="1182.5" y1="561.6" x2="1241.3" y2="561.6" stroke="#000" stroke-width="1"/>
<line x1="1239.3" y1="459" x2="1239.3" y2="561.2" stroke="#000" stroke-width="1"/>
<path d="M1239.3,459 L1240.9,466.5 L1237.7,466.5 Z" fill="#000"/>
<path d="M1239.3,561.2 L1237.7,553.7 L1240.9,553.7 Z" fill="#000"/>
<line x1="809.6" y1="786.3" x2="809.6" y2="831.5" stroke="#000" stroke-width="1"/>
<line x1="1275.9" y1="786.3" x2="1275.9" y2="831.6" stroke="#000" stroke-width="1"/>
<line x1="809.6" y1="827.7" x2="1275.9" y2="827.7" stroke="#000" stroke-width="1"/>
<path d="M809.6,827.7 L817.1,826.1 L817.1,829.3 Z" fill="#000"/>
<path d="M1275.9,827.7 L1268.4,829.3 L1268.4,826.1 Z" fill="#000"/>
<text transform="translate(734.77 615.46) rotate(-90) scale(0.9857 1)" font-size="23.48">650</text>
<text transform="translate(1232.27 527.27) rotate(-90) scale(0.9627 1)" font-size="22.77">200</text>
<text transform="translate(1019.27 820.59) scale(1.0997 1)" font-size="20.79">887</text>
<g transform="translate(870.39 859.59) scale(1.0706 1)"><text font-size="20.98">Minimum cabinet size:  040mm</text><path transform="translate(229.66 0) scale(0.02098 -0.02098)" d="M386,0 L386,700 L274,700 C258,632 198,582 62,578 L62,482 L246,482 L246,0 Z"/></g>
<path d="M93.1,968.1 L559.6,968.1 L559.6,1234.6 L93.1,1234.6 Z M116.1,978.5 A12.5,12.5 0 0 0 103.6,991 L103.6,1211.3 A12.5,12.5 0 0 0 116.1,1223.8 L536.5,1223.8 A12.5,12.5 0 0 0 549,1211.3 L549,991 A12.5,12.5 0 0 0 536.5,978.5 Z" fill="url(#hc)" fill-rule="evenodd" stroke="#000" stroke-width="1.7"/>
<text transform="translate(86.96 947.88) scale(0.9761 1)" font-size="22.68">Top mount</text>
<text transform="translate(138.52 999.4) scale(1.0397 1)" font-size="21.23">R24</text>
<line x1="108.2" y1="985.1" x2="139.4" y2="1006.6" stroke="#000" stroke-width="1"/>
<path d="M108.2,985.1 L114.35,987.64 L112.76,989.94 Z" fill="#000"/>
<line x1="103.6" y1="1224" x2="103.6" y2="1264.7" stroke="#000" stroke-width="1"/>
<line x1="549" y1="1224" x2="549" y2="1264.8" stroke="#000" stroke-width="1"/>
<line x1="103.6" y1="1261.2" x2="549" y2="1261.2" stroke="#000" stroke-width="1"/>
<path d="M103.6,1261.2 L111.1,1259.6 L111.1,1262.8 Z" fill="#000"/>
<path d="M549,1261.2 L541.5,1262.8 L541.5,1259.6 Z" fill="#000"/>
<line x1="559.6" y1="978.4" x2="593.6" y2="978.4" stroke="#000" stroke-width="1"/>
<line x1="559.6" y1="1224.2" x2="593.6" y2="1224.2" stroke="#000" stroke-width="1"/>
<line x1="589.6" y1="978.4" x2="589.6" y2="1224.2" stroke="#000" stroke-width="1"/>
<path d="M589.6,978.4 L591.2,985.9 L588,985.9 Z" fill="#000"/>
<path d="M589.6,1224.2 L588,1216.7 L591.2,1216.7 Z" fill="#000"/>
<text transform="translate(299.49 1256.68) scale(0.9959 1)" font-size="22.35">844</text>
<text transform="translate(584.47 1118.03) rotate(-90) scale(0.9459 1)" font-size="23.48">464</text>
<line x1="350.2" y1="950.5" x2="354.2" y2="950.5" stroke="#777" stroke-width="1"/>
<path d="M674.6,970.1 L1132,970.1 L1132,1227.9 L674.6,1227.9 Z M692.8,980.5 A7.5,7.5 0 0 0 685.3,988 L685.3,1209.7 A7.5,7.5 0 0 0 692.8,1217.2 L1114.1,1217.2 A7.5,7.5 0 0 0 1121.6,1209.7 L1121.6,988 A7.5,7.5 0 0 0 1114.1,980.5 Z" fill="url(#hc2)" fill-rule="evenodd" stroke="none"/>
<rect x="674.6" y="970.1" width="457.4" height="257.8" fill="none" stroke="#666" stroke-width="1.6"/>
<path d="M692.8,980.5 A7.5,7.5 0 0 0 685.3,988 L685.3,1209.7 A7.5,7.5 0 0 0 692.8,1217.2 L1114.1,1217.2 A7.5,7.5 0 0 0 1121.6,1209.7 L1121.6,988 A7.5,7.5 0 0 0 1114.1,980.5 Z" fill="none" stroke="#000" stroke-width="1.5"/>
<text transform="translate(669.75 950.59) scale(1.0672 1)" font-size="21.12">Under mount</text>
<g transform="translate(709.99 1001.48) scale(1.0286 1)"><text font-size="21.97">R 5</text><path transform="translate(15.87 0) scale(0.02197 -0.02197)" d="M386,0 L386,700 L274,700 C258,632 198,582 62,578 L62,482 L246,482 L246,0 Z"/></g>
<line x1="688.7" y1="984.2" x2="714.8" y2="1011.7" stroke="#000" stroke-width="1"/>
<path d="M688.7,984.2 L694.19,987.95 L692.16,989.88 Z" fill="#000"/>
<line x1="685.3" y1="1217.2" x2="685.3" y2="1255.1" stroke="#000" stroke-width="1"/>
<line x1="1121.6" y1="1217.2" x2="1121.6" y2="1255.6" stroke="#000" stroke-width="1"/>
<line x1="685.3" y1="1251.6" x2="1121.6" y2="1251.6" stroke="#000" stroke-width="1"/>
<path d="M685.3,1251.6 L692.8,1250 L692.8,1253.2 Z" fill="#000"/>
<path d="M1121.6,1251.6 L1114.1,1253.2 L1114.1,1250 Z" fill="#000"/>
<line x1="1121.6" y1="980.5" x2="1164.8" y2="980.5" stroke="#000" stroke-width="1"/>
<line x1="1121.6" y1="1217.1" x2="1164.8" y2="1217.1" stroke="#000" stroke-width="1"/>
<line x1="1160.8" y1="980.5" x2="1160.8" y2="1217.1" stroke="#000" stroke-width="1"/>
<path d="M1160.8,980.5 L1162.4,988 L1159.2,988 Z" fill="#000"/>
<path d="M1160.8,1217.1 L1159.2,1209.6 L1162.4,1209.6 Z" fill="#000"/>
<text transform="translate(885.96 1248.75) scale(1.0367 1)" font-size="22.32">830</text>
<text transform="translate(1159.37 1121.04) rotate(-90) scale(0.9794 1)" font-size="23.06">450</text>
</svg></body></html>
